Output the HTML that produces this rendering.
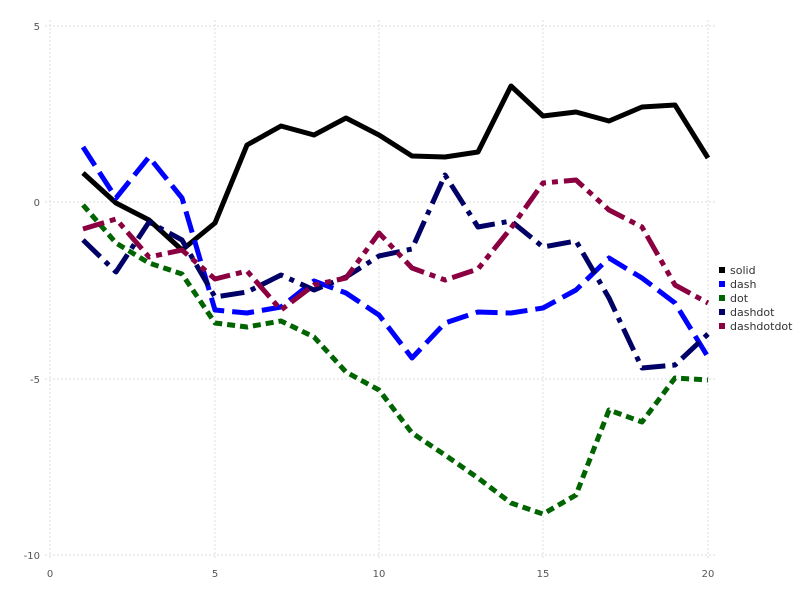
<!DOCTYPE html><html><head><style>body{margin:0;background:#fff}</style></head><body>
<svg width="800" height="600" xmlns="http://www.w3.org/2000/svg" font-family="DejaVu Sans, Liberation Sans, sans-serif">
<rect width="800" height="600" fill="#fff"/>
<g stroke="#ddd" stroke-width="1" stroke-dasharray="2,2">
<line x1="50" y1="20" x2="50" y2="560"/><line x1="215" y1="20" x2="215" y2="560"/><line x1="379" y1="20" x2="379" y2="560"/><line x1="543" y1="20" x2="543" y2="560"/><line x1="708" y1="20" x2="708" y2="560"/>
<line x1="45" y1="26" x2="715" y2="26"/><line x1="45" y1="202" x2="715" y2="202"/><line x1="45" y1="379" x2="715" y2="379"/><line x1="45" y1="555" x2="715" y2="555"/>
</g>
<g font-size="10" fill="#555" text-anchor="end">
<text x="40" y="30">5</text><text x="40" y="206">0</text><text x="40" y="383">-5</text><text x="40" y="559">-10</text>
</g>
<g font-size="10" fill="#555" text-anchor="middle">
<text x="50" y="577">0</text><text x="215" y="577">5</text><text x="379" y="577">10</text><text x="543" y="577">15</text><text x="708" y="577">20</text>
</g>
<g fill="none" stroke-width="5" stroke-linejoin="round">
<polyline stroke="#000" points="83,173 116,203 149,220 182,250 215,223 247,145 281,126 314,135 346,118 379,135 412,156 445,157 478,152 511,86 543,116 576,112 609,121 642,107 675,105 708,158"/>
<polyline stroke="#0000ff" stroke-dasharray="22,8" points="83,147 116,198 149,157 182,198 215,310 247,313 281,307 314,281 346,293 379,315 412,358 445,323 478,312 511,313 543,308 576,290 609,258 642,278 675,303 708,357"/>
<polyline stroke="#006400" stroke-dasharray="8,5" points="83,205 116,243 149,263 182,274 215,323 247,327 281,321 314,337 346,372 379,390 412,433 445,455 478,478 511,503 543,514 576,495 609,410 642,422 675,378 708,380"/>
<polyline stroke="#000066" stroke-dasharray="24,7,5,7" points="83,240 116,272 149,222 182,240 215,297 247,292 281,275 314,290 346,277 379,256 412,249 445,175 478,227 511,221 543,247 576,241 609,298 642,368 675,365 708,334"/>
<polyline stroke="#8b0040" stroke-dasharray="22,6,6,6,6,6" points="83,229 116,219 149,257 182,250 215,279 247,271 281,310 314,285 346,278 379,233 412,268 445,280 478,269 511,228 543,183 576,180 609,210 642,227 675,285 708,303"/>
</g>
<g font-size="11" fill="#333">
<rect x="719" y="267" width="6" height="6" fill="#000"/><text x="730" y="274">solid</text>
<rect x="719" y="281" width="6" height="6" fill="#0000ff"/><text x="730" y="288">dash</text>
<rect x="719" y="295" width="6" height="6" fill="#006400"/><text x="730" y="302">dot</text>
<rect x="719" y="309" width="6" height="6" fill="#000066"/><text x="730" y="316">dashdot</text>
<rect x="719" y="323" width="6" height="6" fill="#8b0040"/><text x="730" y="330">dashdotdot</text>
</g>
</svg></body></html>
